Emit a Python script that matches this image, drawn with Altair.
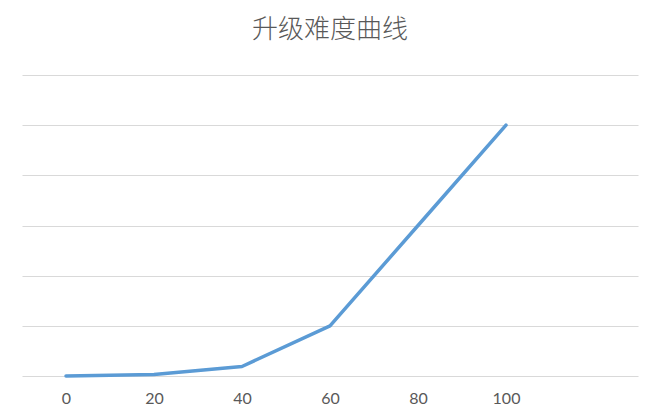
import altair as alt
import pandas as pd

levels = ["0", "20", "40", "60", "80", "100"]
difficulty = [0.0, 0.03, 0.19, 1.0, 3.0, 5.0]
x_domain = levels + [""]
y_ticks = [0, 1, 2, 3, 4, 5, 6]
title_text = "升级难度曲线"

df = pd.DataFrame({"level": levels, "difficulty": difficulty})

chart = (
    alt.Chart(df)
    .mark_line(color="#5B9BD5", strokeWidth=3.5, strokeCap="round", strokeJoin="round")
    .encode(
        x=alt.X(
            "level:N",
            scale=alt.Scale(type="point", domain=x_domain, padding=0.5),
            axis=alt.Axis(
                title=None, labelAngle=0, domain=False, ticks=False, grid=False,
                labelFont="Lato", labelFontSize=16, labelColor="#595959", labelPadding=14,
            ),
        ),
        y=alt.Y(
            "difficulty:Q",
            scale=alt.Scale(domain=[0, 6], nice=False, zero=True),
            axis=alt.Axis(
                title=None, labels=False, ticks=False, domain=False,
                values=y_ticks, gridColor="#D9D9D9", gridWidth=1,
            ),
        ),
    )
    .properties(
        width=616,
        height=301,
        padding={"left": 14, "top": 67, "right": 15, "bottom": 30},
        autosize=alt.AutoSizeParams(type="none"),
        title=alt.TitleParams(
            text=title_text, font="Noto Sans CJK SC", fontSize=26, fontWeight=300,
            color="#595959", anchor="middle", frame="group", baseline="alphabetic", offset=11,
        ),
    )
    .configure_view(stroke=None)
)

chart.save("out.html", embed_options={"renderer": "svg", "actions": False})
